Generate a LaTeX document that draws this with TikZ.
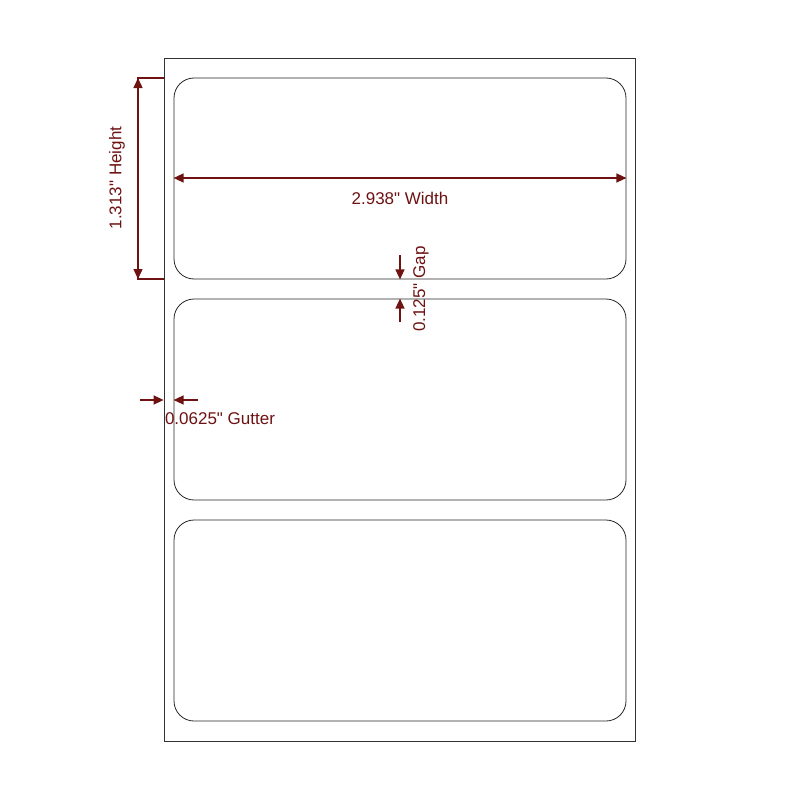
\documentclass[tikz,border=0pt]{standalone}
\usepackage{fontspec}
\setmainfont{Liberation Sans}
\usetikzlibrary{arrows.meta}
\definecolor{dimred}{RGB}{110,18,18}

\begin{document}
\begin{tikzpicture}[x=1pt, y=-1pt,
				   sheet/.style={draw=black!80, line width=0.8pt, minimum width=471pt, minimum height=683pt, inner sep=0pt},
				   labelbox/.style={draw=black!85, line width=0.8pt, rounded corners=20pt, minimum width=452pt, minimum height=201pt, inner sep=0pt},
				   dim/.style={draw=dimred, line width=1.4pt},
				   tip/.style={-{Triangle[length=10pt, width=9pt]}},
				   dimtext/.style={text=dimred, inner sep=0pt, font=\fontsize{17}{20}\selectfont}]
\useasboundingbox (0,0) rectangle (800,800);
\node[sheet] (S) at (399.5,399.5) {};
\node[labelbox] (L1) at (400,178.5) {};
\node[labelbox] (L2) at (400,399.5) {};
\node[labelbox] (L3) at (400,620.5) {};
% height
\coordinate (H1) at (137,78);
\coordinate (H2) at (137,279);
\draw[dim] (H1) -- (H1 -| S.west);
\draw[dim] (H2) -- (H2 -| S.west);
\draw[dim, tip] ([xshift=1pt]H2) -- ([xshift=1pt]H1);
\draw[dim, tip] ([xshift=1pt]H1) -- ([xshift=1pt]H2);
\node[dimtext, rotate=90] (htext) at (117,178) {1.313\textquotedbl{} Height};
% width
\draw[dim, tip] ([yshift=0.5pt]L1.center) -- ([yshift=0.5pt]L1.east);
\draw[dim, tip] ([yshift=0.5pt]L1.center) -- ([yshift=0.5pt]L1.west);
\node[dimtext] (wtext) at (400,198) {2.938\textquotedbl{} Width};
% gap
\coordinate (G1) at (400,255);
\coordinate (G2) at (400,322);
\draw[dim, tip] (G1) -- (G1 |- L1.south);
\draw[dim, tip] (G2) -- (G2 |- L2.north);
\node[dimtext, rotate=90] (gtext) at (421,289) {0.125\textquotedbl{} Gap};
% gutter
\coordinate (T1) at (140,400);
\coordinate (T2) at (198,400);
\draw[dim, tip] (T1) -- (T1 -| S.west);
\draw[dim, tip] (T2) -- (T2 -| L2.west);
\node[dimtext] (ttext) at (220,419) {0.0625\textquotedbl{} Gutter};
\end{tikzpicture}
\end{document}
